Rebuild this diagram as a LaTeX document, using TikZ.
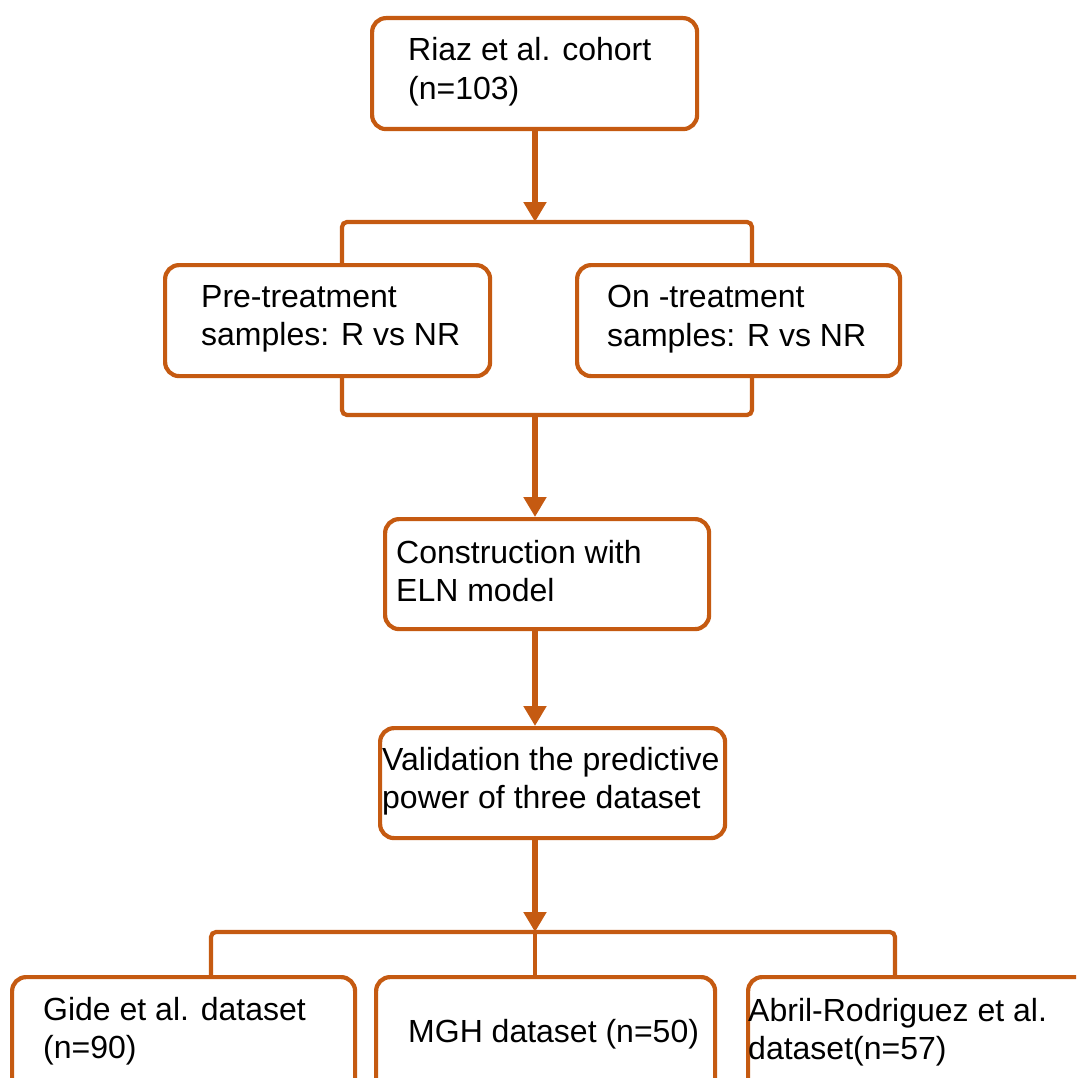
\documentclass[tikz,border=0pt]{standalone}
\usepackage{fontspec}
\setmainfont{Liberation Sans}
\usetikzlibrary{arrows.meta}
\definecolor{org}{RGB}{197,90,17}
\begin{document}
\begin{tikzpicture}[x=1pt,y=-1pt,
 box/.style={draw=org, line width=4.2pt, rounded corners=14pt, fill=white, inner sep=0pt, anchor=north west},
 txt/.style={inner sep=0pt, align=left, font=\fontsize{32}{38.5}\selectfont, anchor=west},
 arr/.style={draw=org, line width=6pt, -{Triangle[width=22pt,length=20pt]}},
 conn/.style={draw=org, line width=4.2pt, rounded corners=5pt}]
\clip (0,0) rectangle (1076,1078);
\fill[white] (0,0) rectangle (1076,1078);
% boxes
\node[box, minimum width=325pt, minimum height=111pt] (riaz) at (370,16) {};
\node[box, minimum width=325pt, minimum height=111pt] (pre) at (163,263) {};
\node[box, minimum width=323pt, minimum height=111pt] (on) at (575,263) {};
\node[box, minimum width=324pt, minimum height=110pt] (eln) at (383,517) {};
\node[box, minimum width=345pt, minimum height=110pt] (val) at (378,726) {};
\node[box, minimum width=343pt, minimum height=125pt] (gide) at (10,975) {};
\node[box, minimum width=339pt, minimum height=125pt] (mgh) at (374,975) {};
\node[box, minimum width=344pt, minimum height=125pt] (abril) at (746,975) {};
% texts
\node[txt] (riazt) at (408,71.5) {Riaz et al. cohort\\(n=103)};
\node[txt] (pret) at (201,319) {Pre-treatment\\samples: R vs NR};
\node[txt] (ont) at (607,319) {On -treatment\\samples: R vs NR};
\node[txt] (elnt) at (396,571) {Construction with\\ELN model};
\node[txt] (valt) at (382,781) {Validation the predictive\\power of three dataset};
\node[txt] (gidet) at (43,1031) {Gide et al. dataset\\(n=90)};
\node[txt] (mght) at (408,1034) {MGH dataset (n=50)};
\node[txt] (abrilt) at (748,1032) {Abril-Rodriguez et al.\\dataset(n=57)};
% junction coordinates
\coordinate (j1) at (535,222);
\coordinate (j2) at (535,415);
\coordinate (j3) at (535,932);
% top fork
\draw[arr] (riaz.south -| j1) -- (j1);
\draw[conn] (pre.north -| 342,0) |- (j1) -| (on.north -| 752,0);
% bottom join
\draw[conn] (pre.south -| 342,0) |- (j2) -| (on.south -| 752,0);
\draw[arr] (j2) -- (eln.north -| j2);
\draw[arr] (eln.south -| j2) -- (val.north -| j2);
\draw[arr] (val.south -| j3) -- (j3);
\draw[conn] (gide.north -| 211,0) |- (j3) -| (abril.north -| 895,0);
\draw[conn] (j3) -- (mgh.north -| j3);
\end{tikzpicture}
\end{document}
